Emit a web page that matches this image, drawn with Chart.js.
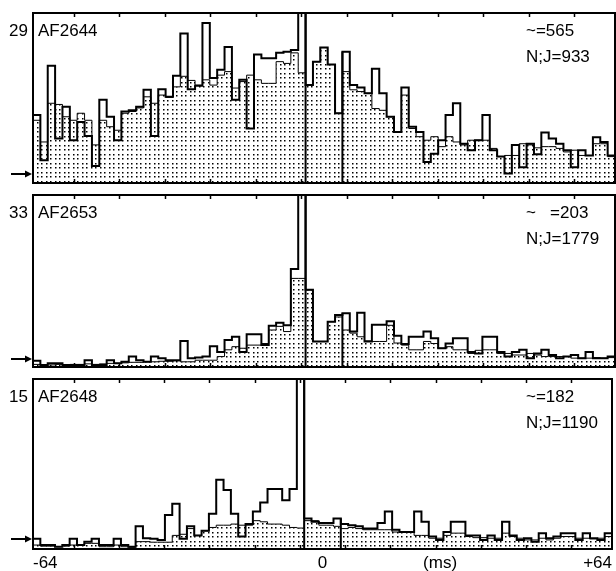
<!DOCTYPE html>
<html><head><meta charset="utf-8">
<script src="https://cdn.jsdelivr.net/npm/chart.js@4/dist/chart.umd.min.js"></script>
<style>
html,body{margin:0;padding:0;background:#fff;overflow:hidden;width:616px;height:571px;}
canvas{position:absolute;left:0;top:0;}
</style></head><body>
<canvas id="c0" width="616" height="571"></canvas>
<canvas id="c1" width="616" height="571"></canvas>
<canvas id="c2" width="616" height="571"></canvas>
<script>
// ---- data ----
const xMin = -64, xMax = 64, binCount = 79;
const panelNames = ['AF2644', 'AF2653', 'AF2648'];
const panelMax = [29, 33, 15];
const statA = ['~=565', '~   =203', '~=182'];
const statB = ['N;J=933', 'N;J=1779', 'N;J=1190'];
const arrowLevel = [1.5, 1.5, 0.9];
const frameTicks = [-55, -45, -35, -25, -15, -5, 5, 15, 25, 35, 45, 55];
const markerBins = [37, 42];
const xTickValues = [-64, 0, 26, 64];
const xTickLabels = ['-64', '0', '(ms)', '+64'];

const line1 = [
11.6, 3.9, 20.0, 7.6, 13.0, 7.3, 10.4, 8.0, 2.9, 14.2,
11.3, 7.3, 12.2, 12.4, 13.0, 15.9, 8.0, 16.0, 14.7, 18.3,
25.5, 16.0, 16.6, 27.3, 17.9, 19.3, 23.2, 14.2, 17.6, 9.3,
21.9, 21.3, 21.3, 22.2, 22.4, 22.7, 29.5, 16.7, 20.7, 23.1,
20.2, 11.9, 22.4, 16.7, 16.3, 15.3, 19.5, 15.3, 11.3, 8.7,
16.3, 9.6, 8.7, 3.6, 5.0, 7.3, 11.6, 13.6, 6.7, 5.6,
7.3, 11.6, 5.6, 4.5, 1.6, 6.5, 2.7, 6.7, 4.9, 8.6,
7.6, 6.7, 5.6, 2.7, 5.6, 4.7, 7.8, 7.0, 4.7];
const dots1 = [
10.7, 7.0, 13.6, 13.4, 11.3, 10.7, 11.9, 10.7, 6.5, 10.7,
9.6, 9.0, 11.9, 12.2, 12.8, 14.7, 13.6, 15.0, 14.6, 16.4,
18.2, 17.5, 16.7, 17.6, 16.7, 18.4, 19.0, 16.2, 17.3, 18.4,
17.6, 17.0, 17.0, 20.7, 20.4, 22.2, 18.8, 16.7, 20.7, 23.1,
20.2, 11.9, 19.0, 15.9, 15.6, 15.3, 12.7, 12.4, 11.3, 8.7,
15.0, 9.3, 7.9, 7.3, 7.9, 6.2, 7.9, 7.0, 6.5, 7.3,
7.3, 7.3, 5.9, 4.5, 4.7, 4.7, 6.7, 6.5, 6.0, 6.2,
6.2, 5.9, 5.3, 5.6, 4.7, 4.7, 6.7, 6.7, 4.5];
const line2 = [
1.2, 0.4, 0.7, 0.7, 0.4, 0.4, 0.4, 1.3, 0.4, 0.4,
1.3, 0.7, 1.0, 2.0, 1.3, 1.0, 2.0, 1.7, 1.3, 1.3,
5.0, 1.7, 1.8, 2.0, 4.0, 2.9, 5.2, 5.8, 2.9, 6.3,
6.3, 4.2, 7.9, 8.5, 8.0, 18.8, 40, 14.8, 4.9, 4.9,
8.7, 10.0, 10.3, 6.8, 10.4, 4.9, 8.1, 8.1, 8.8, 6.0,
4.4, 5.8, 5.8, 6.8, 5.5, 3.6, 4.5, 5.5, 5.5, 2.9,
2.6, 5.8, 5.8, 2.9, 2.0, 2.9, 3.3, 1.7, 2.6, 3.3,
2.3, 1.7, 2.0, 2.3, 1.7, 2.9, 1.7, 1.7, 2.0];
const dots2 = [
0.5, 0.4, 0.4, 0.5, 0.4, 0.5, 0.5, 0.6, 0.5, 0.6,
0.7, 0.7, 0.8, 0.9, 0.9, 1.0, 1.0, 1.1, 1.1, 1.2,
1.0, 1.0, 1.3, 1.3, 1.3, 2.0, 3.3, 3.9, 3.6, 4.2,
4.2, 4.5, 7.1, 7.8, 6.8, 17.0, 17.0, 14.8, 4.9, 4.9,
8.7, 9.6, 7.1, 6.5, 5.8, 5.0, 4.9, 4.9, 8.0, 4.6,
4.2, 3.3, 3.3, 4.9, 4.5, 3.6, 3.9, 3.3, 3.3, 2.6,
3.2, 3.3, 3.3, 2.6, 2.6, 2.3, 2.3, 2.6, 2.3, 2.0,
2.0, 2.0, 2.0, 1.7, 1.7, 1.7, 1.8, 1.7, 1.8];
const line3 = [
0.9, 0.35, 0.35, 0.2, 0.35, 0.9, 0.35, 0.65, 0.9, 0.35,
0.35, 0.9, 0.35, 0.2, 2.0, 0.94, 0.9, 0.8, 3.0, 4.0,
0.9, 2.0, 1.2, 1.6, 3.1, 6.1, 5.2, 3.1, 1.1, 2.2,
3.3, 4.1, 5.3, 5.3, 4.3, 5.3, 20, 2.7, 2.4, 2.3,
2.3, 2.7, 2.2, 2.1, 2.0, 1.8, 1.8, 2.3, 3.3, 1.7,
1.5, 1.5, 3.3, 2.4, 1.1, 0.8, 1.5, 2.4, 2.4, 1.2,
1.2, 0.8, 1.2, 0.8, 2.4, 1.2, 0.8, 0.95, 0.65, 1.4,
0.95, 1.1, 1.4, 1.4, 0.8, 1.4, 0.95, 0.8, 1.4];
const dots3 = [
0.35, 0.25, 0.25, 0.2, 0.25, 0.35, 0.35, 0.5, 0.5, 0.2,
0.2, 0.35, 0.2, 0.15, 0.65, 0.65, 0.6, 0.6, 0.6, 1.2,
1.3, 1.8, 1.2, 1.6, 1.9, 2.1, 2.1, 2.2, 2.1, 2.1,
2.5, 2.4, 2.2, 2.2, 2.1, 1.9, 1.85, 2.5, 2.5, 2.1,
2.1, 2.0, 1.8, 1.9, 1.8, 1.7, 1.7, 1.7, 1.7, 1.5,
1.5, 1.5, 1.2, 1.2, 0.95, 0.95, 1.2, 1.4, 1.4, 1.1,
1.0, 1.0, 0.95, 0.95, 1.4, 1.1, 0.95, 0.8, 0.8, 0.95,
0.8, 0.95, 1.1, 1.1, 0.95, 0.95, 0.9, 0.95, 1.1];

const lines = [line1, line2, line3];
const dots = [dots1, dots2, dots3];

// ---- layout ----
const areaTop = [13, 195, 379];
const padBottom = [388, 204, 0];
const FONT = '"Liberation Sans", Arial, sans-serif';

const binW = (xMax - xMin) / binCount;
function steps(vals) {
  const pts = vals.map((v, k) => ({x: xMin + k * binW, y: v}));
  pts.push({x: xMax, y: vals[vals.length - 1]});
  return pts;
}

function makePattern(ctx) {
  const c = document.createElement('canvas');
  c.width = 9; c.height = 9;
  const g = c.getContext('2d');
  g.fillStyle = '#000';
  [[1,1],[5,1],[1,5],[5,5]].forEach(([x,y]) => g.fillRect(x, y, 1.5, 1.5));
  return ctx.createPattern(c, 'repeat');
}

const decor = {
  id: 'decor',
  afterDatasetsDraw(chart, args, opts) {
    const i = opts.idx;
    const {ctx, chartArea: a} = chart;
    const xs = chart.scales.x, ys = chart.scales.y;
    ctx.save();
    ctx.strokeStyle = '#000'; ctx.fillStyle = '#000';
    ctx.lineWidth = 2;
    ctx.strokeRect(a.left, a.top, a.right - a.left, a.bottom - a.top);
    ctx.lineWidth = 1.5;
    frameTicks.forEach(v => {
      const px = Math.round(xs.getPixelForValue(v)) + 0.5;
      ctx.beginPath();
      ctx.moveTo(px, a.top); ctx.lineTo(px, a.top + 4);
      ctx.moveTo(px, a.bottom); ctx.lineTo(px, a.bottom - 4);
      ctx.stroke();
    });
    const ay = Math.round(ys.getPixelForValue(arrowLevel[i]));
    ctx.lineWidth = 2;
    ctx.beginPath(); ctx.moveTo(11, ay); ctx.lineTo(a.left - 5, ay); ctx.stroke();
    ctx.beginPath(); ctx.moveTo(a.left - 1, ay); ctx.lineTo(a.left - 8, ay - 3.5); ctx.lineTo(a.left - 8, ay + 3.5); ctx.closePath(); ctx.fill();
    ctx.font = '17px ' + FONT;
    ctx.textBaseline = 'alphabetic';
    ctx.textAlign = 'right';
    ctx.fillText(String(panelMax[i]), a.left - 5, a.top + 23);
    ctx.textAlign = 'left';
    ctx.fillText(panelNames[i], a.left + 5, a.top + 23);
    ctx.fillText(statA[i], 526, a.top + 23);
    ctx.fillText(statB[i], 526, a.top + 49);
    ctx.restore();
  }
};

for (let i = 0; i < 3; i++) {
  const cv = document.getElementById('c' + i);
  const ctx = cv.getContext('2d');
  const L = lines[i], D = dots[i];
  const showX = i === 2;
  const datasets = [
    {data: steps(L), stepped: true, borderColor: '#000', borderWidth: 2, pointRadius: 0, fill: false, order: 0},
    {data: steps(D), stepped: true, borderColor: '#000', borderWidth: 1, pointRadius: 0,
     fill: 'origin', backgroundColor: makePattern(ctx), order: 1}
  ];
  markerBins.forEach(b => {
    const ex = xMin + b * binW;
    datasets.push({data: [{x: ex, y: 0}, {x: ex, y: Math.max(L[b - 1], L[b])}],
      borderColor: '#000', borderWidth: 2, pointRadius: 0, fill: false, order: 0});
  });
  new Chart(ctx, {
    type: 'line',
    data: {datasets},
    plugins: [decor],
    options: {
      responsive: false, animation: false, events: [],
      layout: {padding: {left: 33, right: 1, top: areaTop[i], bottom: padBottom[i]}},
      plugins: {legend: {display: false}, tooltip: {enabled: false}, decor: {idx: i}},
      scales: {
        x: {
          type: 'linear', min: xMin, max: xMax, display: showX, position: 'bottom',
          grid: {display: false, drawTicks: false}, border: {display: false},
          afterBuildTicks: s => { s.ticks = xTickValues.map(v => ({value: v})); },
          afterFit: s => { s.height = showX ? 22 : 0; },
          ticks: {autoSkip: false, maxRotation: 0, minRotation: 0, align: 'inner', padding: 4, color: '#000',
            font: {family: FONT, size: 17},
            callback: v => xTickLabels[xTickValues.indexOf(v)]}
        },
        y: {min: 0, max: panelMax[i], display: false}
      }
    }
  });
}
</script>
</body></html>
